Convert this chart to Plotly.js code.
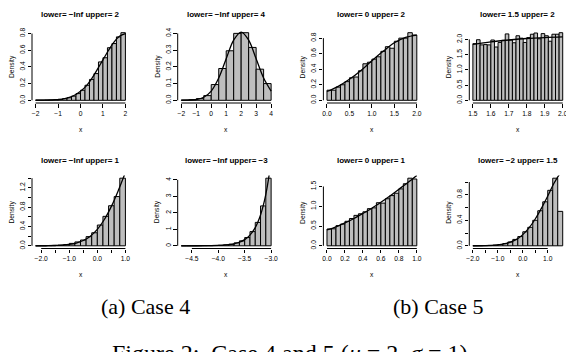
<!DOCTYPE html>
<html>
<head>
<meta charset="utf-8">
<script src="https://cdn.plot.ly/plotly-3.0.1.min.js"></script>
<style>
  html, body { margin: 0; padding: 0; background: #fff; overflow: hidden; }
  #chart { width: 566px; height: 352px; }
</style>
</head>
<body>
<div id="chart"></div>
<script>
// ---- Case 4, panel 1: lower = -Inf, upper = 2 ----
const p1Title = 'lower= \u2212Inf upper= 2';
const p1Start = -2.0, p1Step = 0.2;
const p1Density = [0.002, 0.002, 0.004, 0.005, 0.008, 0.012, 0.02, 0.03, 0.05, 0.08,
                   0.12, 0.18, 0.25, 0.32, 0.46, 0.51, 0.63, 0.68, 0.76, 0.81];
const p1CurveX = [-2, -1.5, -1, -0.75, -0.5, -0.25, 0, 0.25, 0.5, 0.75, 1, 1.25, 1.5, 1.75, 2];
const p1CurveY = [0.001, 0.002, 0.009, 0.018, 0.035, 0.063, 0.108, 0.17, 0.26, 0.37, 0.485, 0.60, 0.70, 0.77, 0.80];
const p1XTicks = [-2, -1, 0, 1, 2];
const p1XLabels = ['\u22122', '\u22121', '0', '1', '2'];
const p1YTicks = [0, 0.2, 0.4, 0.6, 0.8];
const p1YLabels = ['0.0', '0.2', '0.4', '0.6', '0.8'];

// ---- Case 4, panel 2: lower = -Inf, upper = 4 ----
const p2Title = 'lower= \u2212Inf upper= 4';
const p2Start = -2.0, p2Step = 0.5;
const p2Density = [0.002, 0.004, 0.01, 0.028, 0.094, 0.19, 0.296, 0.40, 0.404, 0.316, 0.186, 0.10];
const p2CurveX = [-2, -1.5, -1, -0.5, 0, 0.5, 1, 1.5, 2, 2.5, 3, 3.5, 4];
const p2CurveY = [0.0001, 0.001, 0.0045, 0.018, 0.055, 0.133, 0.248, 0.36, 0.408, 0.36, 0.248, 0.133, 0.055];
const p2XTicks = [-2, -1, 0, 1, 2, 3, 4];
const p2XLabels = ['\u22122', '\u22121', '0', '1', '2', '3', '4'];
const p2YTicks = [0, 0.1, 0.2, 0.3, 0.4];
const p2YLabels = ['0.0', '0.1', '0.2', '0.3', '0.4'];

// ---- Case 5, panel 3: lower = 0, upper = 2 ----
const p3Title = 'lower= 0 upper= 2';
const p3Start = 0.0, p3Step = 0.1;
const p3Density = [0.13, 0.13, 0.17, 0.20, 0.24, 0.29, 0.30, 0.38, 0.47, 0.49,
                   0.53, 0.56, 0.63, 0.69, 0.67, 0.76, 0.80, 0.80, 0.87, 0.84];
const p3CurveX = [0, 0.25, 0.5, 0.75, 1, 1.25, 1.5, 1.75, 2];
const p3CurveY = [0.113, 0.18, 0.27, 0.38, 0.51, 0.63, 0.74, 0.81, 0.84];
const p3XTicks = [0, 0.5, 1, 1.5, 2];
const p3XLabels = ['0.0', '0.5', '1.0', '1.5', '2.0'];
const p3YTicks = [0, 0.2, 0.4, 0.6, 0.8];
const p3YLabels = ['0.0', '0.2', '0.4', '0.6', '0.8'];

// ---- Case 5, panel 4: lower = 1.5, upper = 2 ----
const p4Title = 'lower= 1.5 upper= 2';
const p4Start = 1.5, p4Step = 0.02;
const p4Density = [1.86, 1.99, 1.82, 1.83, 1.82, 1.98, 1.75, 1.90, 1.97, 2.18,
                   1.98, 1.89, 2.12, 2.04, 1.90, 2.06, 2.17, 2.21, 2.02, 2.19,
                   2.12, 1.94, 2.17, 2.17, 2.22];
const p4CurveX = [1.5, 1.6, 1.7, 1.8, 1.9, 2.0];
const p4CurveY = [1.84, 1.92, 1.98, 2.03, 2.06, 2.08];
const p4XTicks = [1.5, 1.6, 1.7, 1.8, 1.9, 2.0];
const p4XLabels = ['1.5', '1.6', '1.7', '1.8', '1.9', '2.0'];
const p4YTicks = [0, 0.5, 1, 1.5, 2];
const p4YLabels = ['0.0', '0.5', '1.0', '1.5', '2.0'];

// ---- Case 4, panel 5: lower = -Inf, upper = 1 ----
const p5Title = 'lower= \u2212Inf upper= 1';
const p5Start = -2.2, p5Step = 0.2;
const p5Density = [0.001, 0.002, 0.004, 0.008, 0.015, 0.025, 0.05, 0.08, 0.12, 0.19,
                   0.27, 0.43, 0.61, 0.83, 1.02, 1.40];
const p5CurveX = [-2.2, -2, -1.75, -1.5, -1.25, -1, -0.75, -0.5, -0.25, 0, 0.25, 0.5, 0.75, 1];
const p5CurveY = [0.0004, 0.0008, 0.002, 0.006, 0.013, 0.028, 0.057, 0.11, 0.20, 0.34, 0.544, 0.816, 1.15, 1.52];
const p5XTicks = [-2, -1.5, -1, -0.5, 0, 0.5, 1];
const p5XLabels = ['\u22122.0', '', '\u22121.0', '', '0.0', '', '1.0'];
const p5YTicks = [0, 0.2, 0.4, 0.6, 0.8, 1.0, 1.2, 1.4];
const p5YLabels = ['0.0', '', '0.4', '', '0.8', '', '1.2', ''];

// ---- Case 4, panel 6: lower = -Inf, upper = -3 ----
const p6Title = 'lower= \u2212Inf upper= \u22123';
const p6Start = -4.7, p6Step = 0.1;
const p6Density = [0.001, 0.001, 0.002, 0.004, 0.007, 0.012, 0.02, 0.035, 0.06, 0.10,
                   0.18, 0.30, 0.50, 0.86, 1.42, 2.42, 4.10];
const p6CurveX = [-4.7, -4.4, -4.2, -4.0, -3.9, -3.8, -3.7, -3.6, -3.5, -3.4, -3.3, -3.25, -3.2, -3.15, -3.1, -3.05, -3.0];
const p6CurveY = [0.0, 0.002, 0.007, 0.021, 0.038, 0.069, 0.122, 0.216, 0.376, 0.648, 1.10, 1.44, 1.87, 2.42, 3.12, 4.03, 5.19];
const p6XTicks = [-4.5, -4.0, -3.5, -3.0];
const p6XLabels = ['\u22124.5', '\u22124.0', '\u22123.5', '\u22123.0'];
const p6YTicks = [0, 1, 2, 3, 4];
const p6YLabels = ['0', '1', '2', '3', '4'];

// ---- Case 5, panel 7: lower = 0, upper = 1 ----
const p7Title = 'lower= 0 upper= 1';
const p7Start = 0.0, p7Step = 0.05;
const p7Density = [0.425, 0.43, 0.51, 0.55, 0.62, 0.69, 0.77, 0.81, 0.86, 0.94,
                   0.96, 1.09, 1.08, 1.19, 1.27, 1.33, 1.44, 1.57, 1.71, 1.69];
const p7CurveX = [0, 0.1, 0.2, 0.3, 0.4, 0.5, 0.6, 0.7, 0.8, 0.9, 1.0];
const p7CurveY = [0.40, 0.48, 0.58, 0.69, 0.82, 0.95, 1.10, 1.26, 1.43, 1.60, 1.78];
const p7XTicks = [0, 0.2, 0.4, 0.6, 0.8, 1.0];
const p7XLabels = ['0.0', '0.2', '0.4', '0.6', '0.8', '1.0'];
const p7YTicks = [0, 0.5, 1.0, 1.5];
const p7YLabels = ['0.0', '0.5', '1.0', '1.5'];

// ---- Case 5, panel 8: lower = -2, upper = 1.5 ----
const p8Title = 'lower= \u22122 upper= 1.5';
const p8Start = -2.0, p8Step = 0.2;
const p8Density = [0.001, 0.001, 0.003, 0.006, 0.011, 0.02, 0.035, 0.06, 0.10, 0.145,
                   0.22, 0.29, 0.40, 0.55, 0.69, 0.87, 1.06, 0.54];
const p8CurveX = [-2, -1.5, -1, -0.75, -0.5, -0.25, 0, 0.25, 0.5, 0.75, 1, 1.25, 1.5];
const p8CurveY = [0.0005, 0.003, 0.014, 0.029, 0.057, 0.10, 0.175, 0.28, 0.42, 0.59, 0.78, 0.98, 1.14];
const p8XTicks = [-2, -1.5, -1, -0.5, 0, 0.5, 1];
const p8XLabels = ['\u22122.0', '', '\u22121.0', '', '0.0', '', '1.0'];
const p8YTicks = [0, 0.2, 0.4, 0.6, 0.8, 1.0];
const p8YLabels = ['0.0', '', '0.4', '', '0.8', ''];

// Captions
const subCaptionA = '(a) Case 4';
const subCaptionB = '(b) Case 5';
const figCaption = 'Figure 2:&nbsp; Case 4 and 5 (<i>\u03bc</i> = 2, <i>\u03c3</i> = 1)';

const panels = [
  { title: p1Title, start: p1Start, step: p1Step, dens: p1Density, cx: p1CurveX, cy: p1CurveY, xt: p1XTicks, xl: p1XLabels, yt: p1YTicks, yl: p1YLabels },
  { title: p2Title, start: p2Start, step: p2Step, dens: p2Density, cx: p2CurveX, cy: p2CurveY, xt: p2XTicks, xl: p2XLabels, yt: p2YTicks, yl: p2YLabels },
  { title: p3Title, start: p3Start, step: p3Step, dens: p3Density, cx: p3CurveX, cy: p3CurveY, xt: p3XTicks, xl: p3XLabels, yt: p3YTicks, yl: p3YLabels },
  { title: p4Title, start: p4Start, step: p4Step, dens: p4Density, cx: p4CurveX, cy: p4CurveY, xt: p4XTicks, xl: p4XLabels, yt: p4YTicks, yl: p4YLabels },
  { title: p5Title, start: p5Start, step: p5Step, dens: p5Density, cx: p5CurveX, cy: p5CurveY, xt: p5XTicks, xl: p5XLabels, yt: p5YTicks, yl: p5YLabels },
  { title: p6Title, start: p6Start, step: p6Step, dens: p6Density, cx: p6CurveX, cy: p6CurveY, xt: p6XTicks, xl: p6XLabels, yt: p6YTicks, yl: p6YLabels },
  { title: p7Title, start: p7Start, step: p7Step, dens: p7Density, cx: p7CurveX, cy: p7CurveY, xt: p7XTicks, xl: p7XLabels, yt: p7YTicks, yl: p7YLabels },
  { title: p8Title, start: p8Start, step: p8Step, dens: p8Density, cx: p8CurveX, cy: p8CurveY, xt: p8XTicks, xl: p8XLabels, yt: p8YTicks, yl: p8YLabels }
];

// Page geometry (pixels)
const W = 566, H = 352;
const colLeft = [32, 177.7, 323.4, 469.3];
const rowTop = [30, 175.5];
const plotW = 97, plotH = 73;

const sans = 'Liberation Sans, Arial, Helvetica, sans-serif';
const serif = 'Liberation Serif, Times New Roman, serif';
const smallFont = { family: sans, size: 6.7, color: '#000' };

const traces = [];
const shapes = [];
const annotations = [];
const layout = {
  width: W, height: H,
  margin: { l: 0, r: 0, t: 0, b: 0, pad: 0 },
  paper_bgcolor: '#fff', plot_bgcolor: '#fff',
  showlegend: false, bargap: 0,
  font: { family: sans, color: '#000' }
};

panels.forEach((p, i) => {
  const k = i + 1;
  const sfx = k === 1 ? '' : String(k);
  const xa = 'x' + sfx, ya = 'y' + sfx;
  const col = i % 4, row = Math.floor(i / 4);
  const l = colLeft[col], t = rowTop[row], b = t + plotH;
  const rEdge = Math.min(l + plotW, W);

  // R-style ranges: breaks span and [0, max] each padded by 4%
  const n = p.dens.length;
  const lo = p.start, hi = p.start + p.step * n, span = hi - lo;
  const r0 = lo - 0.04 * span;
  const r1full = hi + 0.04 * span;
  const r1 = r0 + (r1full - r0) * (rEdge - l) / plotW;
  const M = Math.max(...p.dens);

  const centers = p.dens.map((_, j) => lo + p.step * (j + 0.5));
  traces.push({
    type: 'bar', x: centers, y: p.dens, width: p.step,
    xaxis: xa, yaxis: ya,
    marker: { color: '#bebebe', line: { color: '#000', width: 1 } },
    hoverinfo: 'skip'
  });
  traces.push({
    type: 'scatter', mode: 'lines', x: p.cx, y: p.cy,
    xaxis: xa, yaxis: ya,
    line: { color: '#000', width: 1.3, shape: 'spline', smoothing: 1 },
    hoverinfo: 'skip'
  });

  layout['xaxis' + sfx] = {
    domain: [l / W, rEdge / W], range: [r0, r1], anchor: ya,
    tickmode: 'array', tickvals: p.xt, ticktext: p.xl,
    ticks: 'outside', ticklen: 3.5, tickwidth: 1, tickcolor: '#000',
    ticklabeloverflow: 'allow',
    showgrid: false, zeroline: false, showline: false,
    tickfont: smallFont, fixedrange: true
  };
  layout['yaxis' + sfx] = {
    domain: [1 - b / H, 1 - t / H], range: [-0.04 * M, 1.04 * M], anchor: xa,
    tickmode: 'array', tickvals: p.yt, ticktext: p.yl, tickangle: -90,
    ticks: 'outside', ticklen: 3.5, tickwidth: 1, tickcolor: '#000',
    showgrid: false, zeroline: false, showline: false,
    tickfont: smallFont, fixedrange: true
  };

  // axis lines span first to last tick only
  shapes.push({
    type: 'line', xref: xa, yref: ya + ' domain',
    x0: p.xt[0], x1: p.xt[p.xt.length - 1], y0: 0, y1: 0,
    line: { color: '#000', width: 1 }
  });
  shapes.push({
    type: 'line', xref: xa + ' domain', yref: ya,
    x0: 0, x1: 0, y0: p.yt[0], y1: p.yt[p.yt.length - 1],
    line: { color: '#000', width: 1 }
  });

  // panel title
  annotations.push({
    xref: xa + ' domain', x: 0.5, yref: 'paper', y: 1 - (t - 15) / H,
    xanchor: 'center', yanchor: 'middle', showarrow: false,
    text: '<b>' + p.title + '</b>', font: { family: sans, size: 8, color: '#000' }
  });
  // y axis title
  annotations.push({
    xref: 'paper', x: (l - 20.5) / W, yref: ya + ' domain', y: 0.5,
    xanchor: 'center', yanchor: 'middle', showarrow: false, textangle: -90,
    text: 'Density', font: smallFont
  });
  // x axis title
  annotations.push({
    xref: xa + ' domain', x: 0.5, yref: 'paper', y: 1 - (b + 26) / H,
    xanchor: 'center', yanchor: 'middle', showarrow: false,
    text: 'x', font: smallFont
  });
});

// captions
annotations.push({
  xref: 'paper', x: 145.5 / W, yref: 'paper', y: 1 - 306 / H,
  xanchor: 'center', yanchor: 'middle', showarrow: false,
  text: subCaptionA, font: { family: serif, size: 22, color: '#000' }
});
annotations.push({
  xref: 'paper', x: 438 / W, yref: 'paper', y: 1 - 306 / H,
  xanchor: 'center', yanchor: 'middle', showarrow: false,
  text: subCaptionB, font: { family: serif, size: 22, color: '#000' }
});
annotations.push({
  xref: 'paper', x: 290 / W, yref: 'paper', y: 1 - 353 / H,
  xanchor: 'center', yanchor: 'middle', showarrow: false,
  text: figCaption, font: { family: serif, size: 24, color: '#000' }
});

layout.shapes = shapes;
layout.annotations = annotations;

Plotly.newPlot('chart', traces, layout, { staticPlot: true, displayModeBar: false });
</script>
</body>
</html>
